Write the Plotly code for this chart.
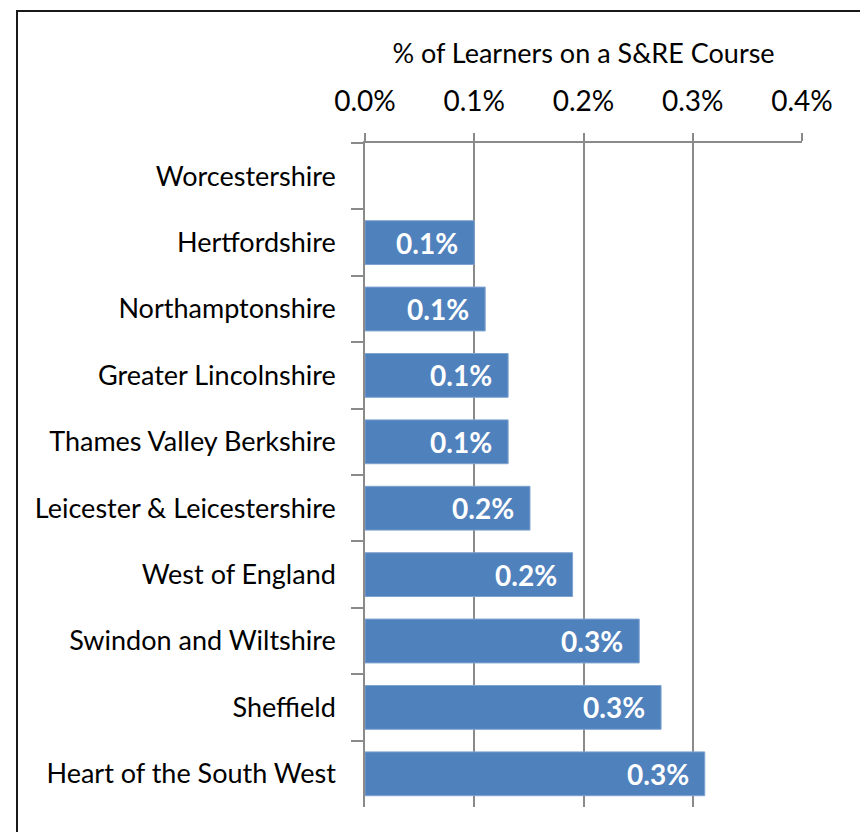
import plotly.graph_objects as go

categories = [
    "Worcestershire",
    "Hertfordshire",
    "Northamptonshire",
    "Greater Lincolnshire",
    "Thames Valley Berkshire",
    "Leicester & Leicestershire",
    "West of England",
    "Swindon and Wiltshire",
    "Sheffield",
    "Heart of the South West",
]
values = [0.0, 0.00100, 0.00110, 0.00131, 0.00131, 0.00151, 0.00190, 0.00251, 0.00271, 0.00311]
tick_vals = [0.0, 0.001, 0.002, 0.003, 0.004]
axis_title = "% of Learners on a S&RE Course"

FONT = "Lato"
GRID = "#8a8a8a"
BAR = "#4F81BD"

fig = go.Figure()
fig.add_trace(go.Bar(
    x=values, y=categories, orientation="h",
    marker=dict(color=BAR, line=dict(color="#7fa3d1",
                                     width=[1 if v > 0 else 0 for v in values])),
    width=0.66, hoverinfo="skip",
))

for c, v in zip(categories, values):
    if v > 0:
        fig.add_annotation(
            x=v, y=c, xref="x", yref="y", text=f"<b>{v*100:.1f}%</b>",
            showarrow=False, xanchor="right", xshift=-14,
            font=dict(family=FONT, size=28, color="white"),
        )

# figure sits 8px inside the page (default body margin)
FW, FH = 860, 824
L, R, T, B = 357, 66, 135, 25
W, H = FW - L - R, FH - T - B
def px_x(p):
    return (p - L) / W
def px_y(p):
    return (FH - B - p) / H
fig.add_shape(type="rect", xref="paper", yref="paper",
              x0=px_x(9), x1=px_x(853), y0=px_y(840), y1=px_y(3),
              line=dict(color="#1a1a1a", width=2), fillcolor="rgba(0,0,0,0)")

fig.update_layout(
    width=FW, height=FH,
    margin=dict(l=L, r=R, t=T, b=B),
    paper_bgcolor="white", plot_bgcolor="white",
    showlegend=False,
    font=dict(family=FONT, size=27, color="#000000"),
    xaxis=dict(
        side="top", range=[0, 0.004], tickvals=tick_vals, tickformat=".1%",
        showgrid=True, gridcolor=GRID, gridwidth=1.5,
        showline=True, linecolor=GRID, linewidth=1.5,
        ticks="outside", ticklen=8, tickcolor=GRID, tickwidth=1.5,
        ticklabelstandoff=11,
        zeroline=False,
        tickfont=dict(family=FONT, size=28),
        title=dict(text=axis_title, font=dict(family=FONT, size=27), standoff=12),
        fixedrange=True,
    ),
    yaxis=dict(
        autorange="reversed", type="category",
        showline=True, linecolor=GRID, linewidth=1.5,
        ticks="outside", ticklen=12, tickcolor=GRID, tickwidth=1.5,
        tickson="boundaries", ticklabelstandoff=22,
        showgrid=False, zeroline=False,
        tickfont=dict(family=FONT, size=27),
        fixedrange=True,
    ),
)

fig.write_html("out.html")
